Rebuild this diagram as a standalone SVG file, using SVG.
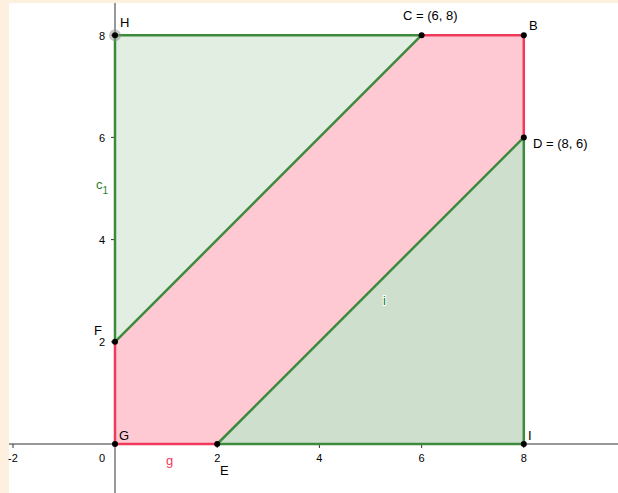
<svg xmlns="http://www.w3.org/2000/svg" width="618" height="493" viewBox="0 0 618 493">
<style>
.lbl{font-family:"Liberation Sans",Arial,sans-serif;font-size:13px;fill:#000}
.tick{font-family:"Liberation Sans",Arial,sans-serif;font-size:11px;fill:#000}
.axis{stroke:#333;stroke-width:1;fill:none}
.gs{stroke:#3d8a3d;stroke-width:2.5;fill:none;stroke-linecap:round}
.rs{stroke:#f03a5c;stroke-width:2.5;fill:none;stroke-linecap:round}
.pt{fill:#000}
</style>
<rect x="0" y="0" width="618" height="493" fill="#fdf0df"/>
<rect x="9" y="3" width="609" height="490" fill="#ffffff"/>
<g id="axes">
<line class="axis" x1="9" y1="444" x2="618" y2="444"/>
<line class="axis" x1="115" y1="3" x2="115" y2="493"/>
<g stroke="#333" stroke-width="1">
<line x1="13" y1="444" x2="13" y2="448"/>
<line x1="217.2" y1="444" x2="217.2" y2="448"/>
<line x1="319.4" y1="444" x2="319.4" y2="448"/>
<line x1="421.6" y1="444" x2="421.6" y2="448"/>
<line x1="523.8" y1="444" x2="523.8" y2="448"/>
<line x1="111" y1="341.8" x2="115" y2="341.8"/>
<line x1="111" y1="239.6" x2="115" y2="239.6"/>
<line x1="111" y1="137.4" x2="115" y2="137.4"/>
<line x1="111" y1="35.2" x2="115" y2="35.2"/>
</g>
<text class="tick" x="13" y="462" text-anchor="middle">-2</text>
<text class="tick" x="102" y="462" text-anchor="middle">0</text>
<text class="tick" x="217.2" y="462" text-anchor="middle">2</text>
<text class="tick" x="319.4" y="462" text-anchor="middle">4</text>
<text class="tick" x="421.6" y="462" text-anchor="middle">6</text>
<text class="tick" x="523.8" y="462" text-anchor="middle">8</text>
<text class="tick" x="102" y="346" text-anchor="middle">2</text>
<text class="tick" x="102" y="244" text-anchor="middle">4</text>
<text class="tick" x="102" y="142" text-anchor="middle">6</text>
<text class="tick" x="102" y="39.5" text-anchor="middle">8</text>
</g>
<g id="regionUpper">
<polygon points="115,35.2 421.6,35.2 115,341.8" fill="#e3eee3"/>
</g>
<g id="regionMiddle">
<polygon points="115,341.8 421.6,35.2 523.8,35.2 523.8,137.4 217.2,444 115,444" fill="#ffc9d3"/>
</g>
<g id="regionLower">
<polygon points="217.2,444 523.8,137.4 523.8,444" fill="#cee0cd"/>
</g>
<g id="connectors">
<line class="rs" x1="421.6" y1="35.2" x2="523.8" y2="35.2"/>
<line class="rs" x1="523.8" y1="35.2" x2="523.8" y2="137.4"/>
<line class="rs" x1="115" y1="444" x2="217.2" y2="444"/>
<line class="rs" x1="115" y1="341.8" x2="115" y2="444"/>
<line class="gs" x1="115" y1="35.2" x2="421.6" y2="35.2"/>
<line class="gs" x1="115" y1="35.2" x2="115" y2="341.8"/>
<line class="gs" x1="115" y1="341.8" x2="421.6" y2="35.2"/>
<line class="gs" x1="217.2" y1="444" x2="523.8" y2="137.4"/>
<line class="gs" x1="523.8" y1="137.4" x2="523.8" y2="444"/>
<line class="gs" x1="217.2" y1="444" x2="523.8" y2="444"/>
</g>
<g id="labels">
<text x="166" y="465" font-family="Liberation Sans,Arial,sans-serif" font-size="13" fill="#f03a5c">g</text>
<text x="96" y="189" font-family="Liberation Sans,Arial,sans-serif" font-size="13" fill="#2e7d2e">c<tspan font-size="10" dy="5">1</tspan></text>
<text x="383" y="305" font-family="Liberation Sans,Arial,sans-serif" font-size="13" fill="#1a7a1a" stroke="#ffffff" stroke-width="2" paint-order="stroke">i</text>
</g>
<g id="H">
<circle cx="115" cy="35.2" r="6" fill="#888" fill-opacity="0.45"/>
<circle class="pt" cx="115" cy="35.2" r="3"/>
<text class="lbl" x="120" y="27">H</text>
</g>
<g id="C">
<circle class="pt" cx="421.6" cy="35.2" r="3"/>
<text class="lbl" x="403" y="20">C = (6, 8)</text>
</g>
<g id="B">
<circle class="pt" cx="523.8" cy="35.2" r="3"/>
<text class="lbl" x="529" y="30">B</text>
</g>
<g id="D">
<circle class="pt" cx="523.8" cy="137.4" r="3"/>
<text class="lbl" x="533" y="148">D = (8, 6)</text>
</g>
<g id="F">
<circle class="pt" cx="115" cy="341.8" r="3"/>
<text class="lbl" x="94" y="335">F</text>
</g>
<g id="G">
<circle class="pt" cx="115" cy="444" r="3"/>
<text class="lbl" x="119" y="440">G</text>
</g>
<g id="E">
<circle class="pt" cx="217.2" cy="444" r="3"/>
<text class="lbl" x="220" y="475">E</text>
</g>
<g id="I">
<circle class="pt" cx="523.8" cy="444" r="3"/>
<text class="lbl" x="528" y="440">I</text>
</g>
</svg>
